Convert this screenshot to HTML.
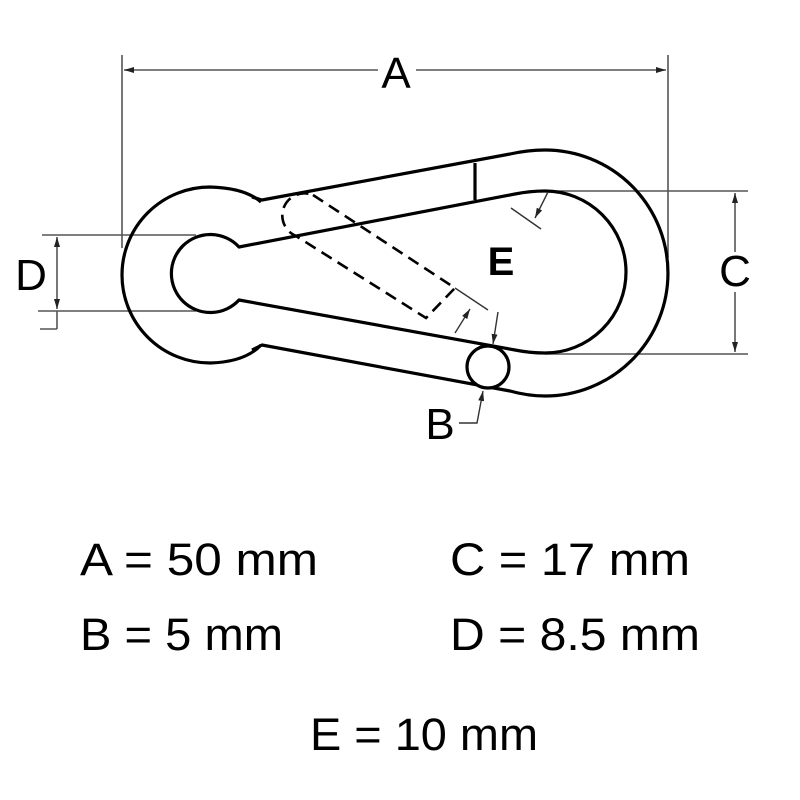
<!DOCTYPE html>
<html><head><meta charset="utf-8"><style>
html,body{margin:0;padding:0;background:#fff;}
svg{display:block}
text{font-family:"Liberation Sans",sans-serif;fill:#000}
</style></head><body>
<svg width="800" height="800" viewBox="0 0 800 800" xmlns="http://www.w3.org/2000/svg">
<defs>
<marker id="ar" viewBox="0 0 10 6" refX="10" refY="3" markerWidth="10" markerHeight="6" markerUnits="userSpaceOnUse" orient="auto-start-reverse"><path d="M0,0 L10,3 L0,6 z" fill="#222"/></marker>
</defs>
<g stroke="#555" stroke-width="1.6" fill="none">
<line x1="122" y1="55" x2="122" y2="248"/>
<line x1="668" y1="55" x2="668" y2="258"/>
<line x1="124" y1="70" x2="378" y2="70" marker-start="url(#ar)"/>
<line x1="416" y1="70" x2="666" y2="70" marker-end="url(#ar)"/>
<line x1="545" y1="191" x2="748" y2="191"/>
<line x1="545" y1="354" x2="748" y2="354"/>
<line x1="735" y1="193" x2="735" y2="252" marker-start="url(#ar)"/>
<line x1="735" y1="292" x2="735" y2="352" marker-end="url(#ar)"/>
<line x1="42" y1="235" x2="196" y2="235"/>
<line x1="38" y1="311" x2="196" y2="311"/>
<line x1="57" y1="237" x2="57" y2="309" marker-start="url(#ar)" marker-end="url(#ar)"/>
<line x1="57" y1="311" x2="57" y2="329"/>
<line x1="57" y1="329" x2="40" y2="329"/>
</g>
<g stroke="#000" stroke-width="3.2" fill="none" stroke-linejoin="round">
<path d="M252,197 L262,200 L510,154 Q528,150 545,150 A123,123 0 0 1 545,396 Q528,396 510,391 L262,345 L252,350"/>
<path d="M261,202 Q245,188 210,187 A88,88 0 0 0 210,363 Q245,362 261,345"/>
<path d="M239,247 L515,194 Q530,191 545,191 A81,81 0 0 1 545,353 Q530,353 515,350 L239,300 A39,39 0 1 1 239,247 Z"/>
<line x1="475" y1="163" x2="475" y2="200"/>
<circle cx="488" cy="367" r="21" fill="#fff"/>
</g>
<g stroke="#000" stroke-width="2.6" fill="none" stroke-dasharray="12,7">
<path d="M313,195 L455,288 L426,318 L296,236 A22,22 0 0 1 313,195"/>
</g>
<g stroke="#333" stroke-width="1.4" fill="none">
<line x1="455" y1="288" x2="488" y2="310"/>
<line x1="455" y1="333" x2="470" y2="309" marker-end="url(#ar)"/>
<line x1="498" y1="312" x2="493" y2="344" marker-end="url(#ar)"/>
<line x1="511" y1="208" x2="541" y2="229"/>
<line x1="548" y1="192" x2="535" y2="218" marker-end="url(#ar)"/>
<polyline points="459,423 477,423 483,391" marker-end="url(#ar)"/>
</g>
<text x="396" y="88" font-size="44" text-anchor="middle">A</text>
<text x="735" y="286" font-size="44" text-anchor="middle">C</text>
<text x="31" y="290" font-size="44" text-anchor="middle">D</text>
<text x="501" y="275" font-size="40" font-weight="bold" text-anchor="middle">E</text>
<text x="440" y="439" font-size="44" text-anchor="middle">B</text>
<text x="80" y="575" font-size="45" textLength="238" lengthAdjust="spacingAndGlyphs">A = 50 mm</text>
<text x="450" y="575" font-size="45" textLength="240" lengthAdjust="spacingAndGlyphs">C = 17 mm</text>
<text x="80" y="650" font-size="45" textLength="203" lengthAdjust="spacingAndGlyphs">B = 5 mm</text>
<text x="450" y="650" font-size="45" textLength="250" lengthAdjust="spacingAndGlyphs">D = 8.5 mm</text>
<text x="310" y="750" font-size="45" textLength="228" lengthAdjust="spacingAndGlyphs">E = 10 mm</text>
</svg>
</body></html>
